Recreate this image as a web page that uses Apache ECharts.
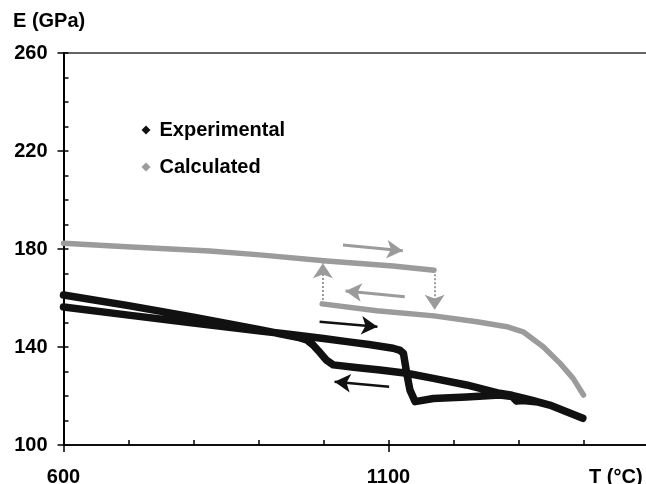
<!DOCTYPE html>
<html><head><meta charset="utf-8">
<script src="https://cdn.jsdelivr.net/npm/echarts@6/dist/echarts.min.js"></script>
<style>html,body{margin:0;padding:0;background:#fff}#c{width:646px;height:484px}</style>
</head><body><div id="c"></div>
<script>
// Experimental: heating (600 -> 1400) then cooling (1400 -> 600)
const expT = [600, 700, 800, 900, 950, 1000, 1036, 1070, 1107, 1118, 1123, 1128, 1133, 1141, 1169, 1220, 1271, 1290, 1297, 1307, 1330, 1348, 1374, 1399,
              1374, 1348, 1320, 1290, 1271, 1220, 1169, 1128, 1087, 1050, 1015, 1005, 1000, 992, 984, 974, 960, 933, 900, 800, 700, 600];
const expE = [156.3, 153.0, 149.8, 146.6, 145.1, 143.5, 142.2, 141.0, 139.5, 138.6, 137.4, 129.3, 122.4, 117.7, 119.0, 119.6, 120.4, 119.8, 117.9, 118.2, 117.5, 116.3, 113.6, 110.9,
              113.6, 116.3, 118.3, 120.3, 121.1, 124.5, 127.2, 129.3, 130.6, 131.6, 132.7, 134.5, 136.0, 138.5, 140.8, 142.9, 144.0, 145.4, 147.2, 152.2, 156.9, 161.2];
// Calculated: upper branch (heating) and lower branch (cooling)
const calcUpT = [600, 697, 825, 902, 1005, 1107, 1170];
const calcUpE = [182.3, 180.9, 179.2, 177.6, 175.1, 173.1, 171.3];
const calcLoT = [998, 1082, 1170, 1236, 1282, 1307, 1338, 1364, 1384, 1400];
const calcLoE = [157.6, 154.8, 152.7, 150.3, 148.3, 146.2, 140.1, 133.3, 127.2, 120.4];
// Annotation arrows [x1, y1, x2, y2] in data units
const greyArrows = [[1030, 181.6, 1122, 179.3], [1125, 160.5, 1034, 162.9]];
const greyDotArrows = [[999, 157.6, 999, 174.2], [1171, 171.3, 1171, 155.2]];
const blackArrows = [[994, 150.3, 1083, 148.3], [1101, 123.8, 1017, 125.8]];
const xLabels = [600, 1100];
const yLabels = [100, 140, 180, 220, 260];

const FONT = "'Liberation Sans', Arial, sans-serif";
const zip = (a, b) => a.map((v, i) => [v, b[i]]);
const arrowData = arr => arr.map(a => [{coord: [a[0], a[1]]}, {coord: [a[2], a[3]]}]);
const GREY = '#9b9b9b', BLACK = '#111111';

const chart = echarts.init(document.getElementById('c'), null, {renderer: 'canvas'});
const xBase = {type: 'value', min: xLabels[0], max: 1500, gridIndex: 0, splitLine: {show: false}};
const yBase = {type: 'value', min: yLabels[0], max: yLabels[yLabels.length - 1], gridIndex: 0, splitLine: {show: false}};
const lblStyle = {color: '#000', fontSize: 20, fontWeight: 'bold', fontFamily: FONT};
const titleStyle = {fontSize: 20, fontWeight: 'bold', color: '#000', fontFamily: FONT};
chart.setOption({
  animation: false,
  backgroundColor: '#fff',
  textStyle: {fontFamily: FONT},
  title: [
    {text: 'E (GPa)', left: 13, top: 11, padding: 0, textStyle: titleStyle},
    {text: 'T (°C)', left: 589, top: 467, padding: 0, textStyle: titleStyle}
  ],
  legend: {
    orient: 'vertical', left: 141.5, top: 120, padding: 0, itemGap: 17, itemWidth: 9, itemHeight: 9,
    icon: 'diamond', data: ['Experimental', 'Calculated'],
    textStyle: {fontSize: 20, fontWeight: 'bold', color: '#000', fontFamily: FONT, lineHeight: 20, padding: [0, 0, 0, 4]}
  },
  grid: {left: 63.5, top: 53, width: 585, height: 392, containLabel: false, outerBoundsMode: 'none'},
  xAxis: [
    Object.assign({}, xBase, {position: 'bottom', interval: 500,
      axisLine: {show: true, onZero: false, lineStyle: {color: '#000', width: 1.5}},
      axisTick: {show: true, inside: false, length: 7, lineStyle: {color: '#000', width: 1.5}},
      axisLabel: Object.assign({show: true, margin: 22, showMaxLabel: false, formatter: v => xLabels.includes(v) ? String(v) : ''}, lblStyle)}),
    Object.assign({}, xBase, {position: 'bottom', interval: 100,
      axisLine: {show: true, onZero: false, lineStyle: {color: '#000', width: 1.5}},
      axisTick: {show: true, inside: true, length: 5, lineStyle: {color: '#000', width: 1.5}},
      axisLabel: {show: false}}),
    Object.assign({}, xBase, {position: 'top',
      axisLine: {show: true, onZero: false, lineStyle: {color: '#333', width: 1.5}},
      axisTick: {show: false}, axisLabel: {show: false}})
  ],
  yAxis: [
    Object.assign({}, yBase, {position: 'left', interval: 40,
      axisLine: {show: true, onZero: false, lineStyle: {color: '#000', width: 2}},
      axisTick: {show: true, inside: false, length: 6, lineStyle: {color: '#000', width: 1.5}},
      axisLabel: Object.assign({show: true, margin: 16}, lblStyle)}),
    Object.assign({}, yBase, {position: 'left', interval: 10,
      axisLine: {show: true, onZero: false, lineStyle: {color: '#000', width: 2}},
      axisTick: {show: true, inside: true, length: 5, lineStyle: {color: '#000', width: 1.5}},
      axisLabel: {show: false}})
  ],
  series: [
    {name: 'Experimental', type: 'line', xAxisIndex: 0, yAxisIndex: 0, data: zip(expT, expE),
      showSymbol: false, symbol: 'diamond', color: BLACK,
      lineStyle: {color: BLACK, width: 7.5, cap: 'round', join: 'round'},
      markLine: {silent: true, symbol: ['none', 'arrow'], symbolSize: [14, 16], label: {show: false},
        lineStyle: {color: BLACK, width: 2.5, type: 'solid'}, data: arrowData(blackArrows)}},
    {name: 'Calculated', type: 'line', xAxisIndex: 0, yAxisIndex: 0, data: zip(calcUpT, calcUpE),
      showSymbol: false, symbol: 'diamond', color: GREY,
      lineStyle: {color: GREY, width: 5.5, cap: 'round', join: 'round'},
      markLine: {silent: true, symbol: ['none', 'arrow'], symbolSize: [14, 16], label: {show: false},
        lineStyle: {color: GREY, width: 3, type: 'solid'}, data: arrowData(greyArrows)}},
    {name: 'Calculated', type: 'line', xAxisIndex: 0, yAxisIndex: 0, data: zip(calcLoT, calcLoE),
      showSymbol: false, symbol: 'diamond', color: GREY,
      lineStyle: {color: GREY, width: 5.5, cap: 'round', join: 'round'},
      markLine: {silent: true, symbol: ['none', 'arrow'], symbolSize: [15, 15], label: {show: false},
        lineStyle: {color: GREY, width: 2, type: 'dotted'}, data: arrowData(greyDotArrows)}}
  ]
});
</script></body></html>
